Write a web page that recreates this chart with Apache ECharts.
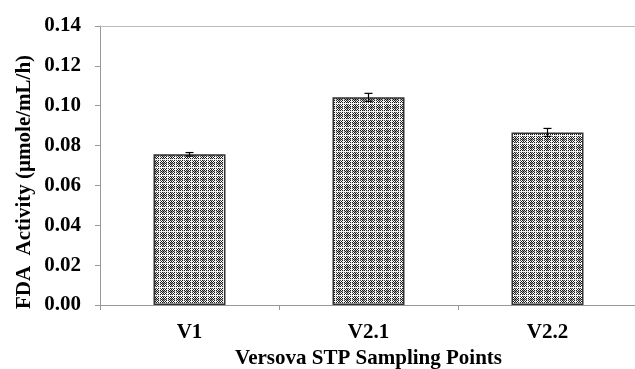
<!DOCTYPE html>
<html>
<head>
<meta charset="utf-8">
<script src="https://cdn.jsdelivr.net/npm/echarts@6/dist/echarts.min.js"></script>
<style>
  html, body { margin: 0; padding: 0; background: #fff; }
  #chart { width: 635px; height: 369px; }
</style>
</head>
<body>
<div id="chart"></div>
<script>
// data
const categories = ['V1', 'V2.1', 'V2.2']
const fdaValues = [0.0756, 0.1042, 0.0866]
const fdaErrors = [0.0009, 0.0020, 0.0020]
const yTicks = [0, 0.02, 0.04, 0.06, 0.08, 0.10, 0.12, 0.14]

// checkered fill like the printed hatch
function makePattern () {
  const c = document.createElement('canvas')
  c.width = 8
  c.height = 8
  const ctx = c.getContext('2d')
  ctx.fillStyle = '#a0a0a0'
  ctx.fillRect(0, 0, 8, 8)
  for (let y = 0; y < 8; y++) {
    for (let x = 0; x < 8; x++) {
      if ((x + y) % 2 === 0) {
        ctx.fillStyle = (x % 4 === 0 && y % 4 === 0) ? '#444' : '#1a1a1a'
        ctx.fillRect(x, y, 1, 1)
      } else if (x % 4 === 1 || y % 4 === 1) {
        ctx.fillStyle = '#fff'
        ctx.fillRect(x, y, 1, 1)
      }
    }
  }
  ctx.fillStyle = '#f0f0f0'
  ctx.fillRect(7, 0, 1, 8)
  ctx.fillRect(0, 7, 8, 1)
  return c
}

const font = 'Liberation Serif'
const chart = echarts.init(document.getElementById('chart'))

const option = {
  animation: false,
  grid: { left: 100, top: 26, bottom: 64, width: 537, outerBoundsMode: 'none', containLabel: false },
  xAxis: [
    {
      type: 'category',
      data: categories,
      axisLine: { lineStyle: { color: '#999', width: 1 } },
      axisTick: { show: true, length: 5, lineStyle: { color: '#999' } },
      axisLabel: { margin: 17, color: '#000', fontFamily: font, fontWeight: 'bold', fontSize: 21 },
      name: 'Versova STP Sampling Points',
      nameLocation: 'middle',
      nameGap: 43,
      nameTextStyle: { color: '#000', fontFamily: font, fontWeight: 'bold', fontSize: 21 }
    },
    {
      type: 'category',
      data: categories,
      position: 'top',
      axisLine: { lineStyle: { color: '#bbb', width: 1 } },
      axisTick: { show: false },
      axisLabel: { show: false }
    }
  ],
  yAxis: {
    type: 'value',
    min: yTicks[0],
    max: yTicks[yTicks.length - 1],
    interval: 0.02,
    axisLine: { show: true, lineStyle: { color: '#999' } },
    axisTick: { show: true, length: 5, lineStyle: { color: '#999' } },
    splitLine: { show: false },
    axisLabel: {
      margin: 19,
      color: '#000',
      fontFamily: font,
      fontWeight: 'bold',
      fontSize: 21,
      formatter: (v) => v.toFixed(2)
    }
  },
  graphic: [
    {
      type: 'text',
      x: 25,
      y: 182,
      rotation: Math.PI / 2,
      style: {
        text: 'FDA  Activity (µmole/mL/h)',
        fill: '#000',
        font: 'bold 21px "Liberation Serif"',
        align: 'center',
        verticalAlign: 'middle'
      }
    }
  ],
  series: [
    {
      type: 'bar',
      data: fdaValues,
      barWidth: 72,
      itemStyle: {
        color: { image: makePattern(), repeat: 'repeat' },
        borderColor: '#333',
        borderWidth: 1.5
      }
    },
    {
      type: 'custom',
      data: fdaValues.map((v, i) => [i, v, fdaErrors[i]]),
      z: 5,
      renderItem (params, api) {
        const x = api.value(0)
        const hi = api.coord([x, api.value(1) + api.value(2)])
        const lo = api.coord([x, api.value(1) - api.value(2)])
        const cap = 4
        const style = { stroke: '#000', lineWidth: 1.2 }
        return {
          type: 'group',
          children: [
            { type: 'line', shape: { x1: hi[0], y1: hi[1], x2: lo[0], y2: lo[1] }, style },
            { type: 'line', shape: { x1: hi[0] - cap, y1: hi[1], x2: hi[0] + cap, y2: hi[1] }, style },
            { type: 'line', shape: { x1: lo[0] - cap, y1: lo[1], x2: lo[0] + cap, y2: lo[1] }, style }
          ]
        }
      }
    }
  ]
}

chart.setOption(option)
</script>
</body>
</html>
